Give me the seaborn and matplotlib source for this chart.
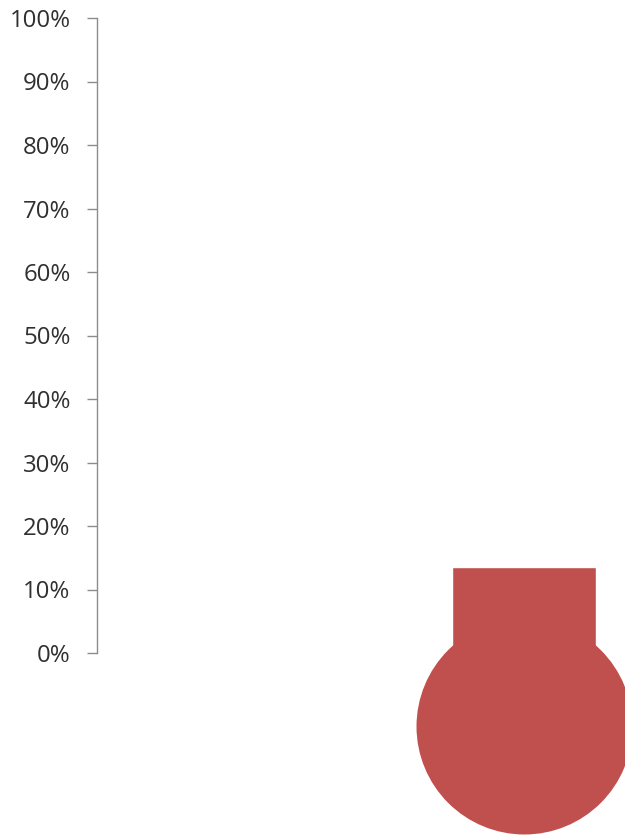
import matplotlib
matplotlib.use("Agg")
import matplotlib.pyplot as plt
import seaborn as sns
import pandas as pd
from matplotlib.ticker import PercentFormatter

categories = ["Progress"]
values = [0.135]
tick_values = [0.0, 0.1, 0.2, 0.3, 0.4, 0.5, 0.6, 0.7, 0.8, 0.9, 1.0]

sns.set_theme(style="white")
plt.rcParams["font.family"] = ["Open Sans", "DejaVu Sans"]

RED = "#C0504D"
GRAY = "#8C8C8C"

df = pd.DataFrame({"cat": categories, "val": values})

fig = plt.figure(figsize=(6.25, 8.35), dpi=100)
# axes: left at x=97px, top at y=18px, bottom (0%) at y=653px
ax = fig.add_axes([97 / 625, (835 - 653) / 835, (625 - 97) / 625, (653 - 18) / 835])

xl, xr = -1.456, 0.344
bar_w = 144 / 528 * (xr - xl)
sns.barplot(data=df, x="cat", y="val", ax=ax, color=RED, width=bar_w,
            saturation=1, native_scale=False)
ax.set_xlim(xl, xr)
ax.set_ylim(0, 1)

# bulb of the thermometer, centred under the bar
px_per_unit = 653 - 18
bulb_r_px = 108
bulb_cy = -(726 - 653) / px_per_unit
diam_pt = 2 * bulb_r_px * 72 / 100
ax.scatter([0], [bulb_cy], s=diam_pt ** 2, color=RED, clip_on=False,
           linewidths=0, zorder=3)

ax.set_yticks(tick_values)
ax.yaxis.set_major_formatter(PercentFormatter(xmax=1, decimals=0))
ax.tick_params(axis="y", left=True, length=7, width=1, color=GRAY,
               pad=12, labelsize=17.3, labelcolor="#303030")
ax.tick_params(axis="x", bottom=False, labelbottom=False)
ax.set_xlabel("")
ax.set_ylabel("")
for s in ["top", "right", "bottom"]:
    ax.spines[s].set_visible(False)
ax.spines["left"].set_color(GRAY)
ax.spines["left"].set_linewidth(1)

fig.savefig("out.png", dpi=100)
